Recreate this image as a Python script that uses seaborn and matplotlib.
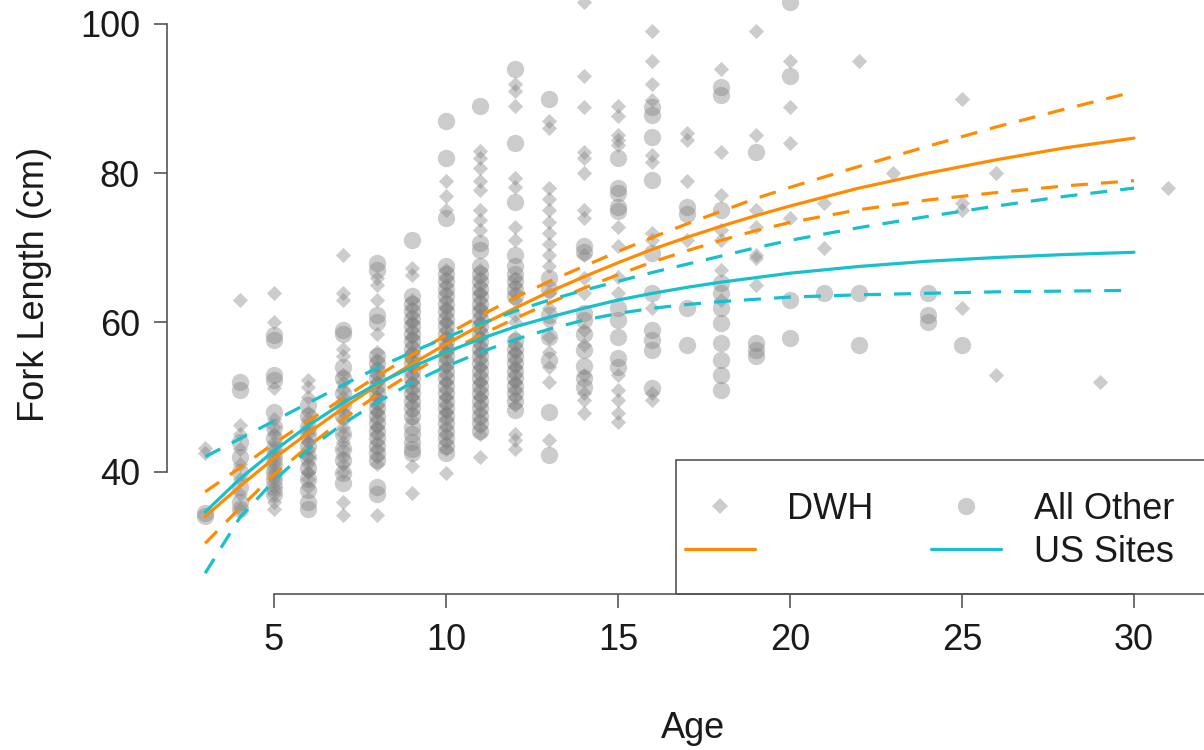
import matplotlib
matplotlib.use("Agg")
import matplotlib.pyplot as plt
import pandas as pd
import seaborn as sns
from matplotlib.lines import Line2D
from matplotlib.patches import Rectangle

# Growth-curve fits (fork length, cm) by age with confidence bands
ages_fit = [3, 4, 5, 6, 7, 8, 9, 10, 11, 12, 13, 14, 15, 16, 17, 18, 19, 20, 22, 24, 26, 28, 30]
dwh_fit = [34.0, 38.0, 41.8, 45.2, 48.5, 51.6, 54.4, 57.1, 59.6, 61.9, 64.1, 66.1, 68.0, 69.8,
           71.4, 72.9, 74.3, 75.6, 78.0, 80.0, 81.8, 83.4, 84.7]
dwh_upper = [37.3, 40.5, 43.8, 46.8, 49.8, 52.8, 55.6, 58.3, 60.9, 63.3, 65.5, 67.5, 69.5, 71.4,
             73.2, 74.9, 76.6, 78.1, 80.9, 83.6, 86.2, 88.6, 90.9]
dwh_lower = [30.4, 35.1, 39.6, 43.4, 47.0, 50.3, 53.2, 55.9, 58.3, 60.5, 62.6, 64.6, 66.4, 68.1,
             69.6, 71.0, 72.3, 73.4, 75.1, 76.4, 77.4, 78.3, 79.0]
us_fit = [34.6, 39.0, 42.8, 46.2, 49.2, 51.8, 54.0, 56.0, 57.8, 59.4, 60.7, 61.9, 63.0, 63.9,
          64.7, 65.4, 66.0, 66.6, 67.5, 68.2, 68.7, 69.1, 69.4]
us_upper = [42.0, 44.4, 46.8, 49.2, 51.6, 53.9, 56.0, 58.0, 59.8, 61.5, 63.0, 64.3, 65.5, 66.7,
            67.8, 68.9, 70.0, 71.0, 72.7, 74.2, 75.6, 76.9, 78.0]
us_lower = [26.4, 33.8, 38.8, 43.0, 46.4, 49.3, 51.9, 54.1, 56.0, 57.7, 59.1, 60.3, 61.2, 61.9,
            62.4, 62.8, 63.1, 63.4, 63.7, 63.9, 64.1, 64.2, 64.3]

# Observed fork lengths by age: DWH fish
dwh_fl = {
    3: [42.5, 43.2],
    4: [63, 46.3, 45.1, 43, 41, 39, 37, 35],
    5: [64, 60, 51.2, 47, 46, 45, 44, 43, 42, 41, 40, 39, 38, 37, 36, 35],
    6: [52.3, 51.4, 50, 48, 47, 46, 45, 44, 43, 42, 41, 40, 39, 38, 44, 42, 40],
    7: [69, 64, 63, 56.5, 55.5, 53, 52, 51, 50, 49, 48, 47, 46, 45, 44, 43, 42, 41, 40, 36, 34.2],
    8: [66, 65, 63, 58.5, 56, 55, 54, 53, 52, 51, 50, 49, 48, 47, 46, 45, 44, 43, 42, 41, 34.2,
        52, 50, 48, 46],
    9: [67.3, 66.4, 63, 62, 61, 60, 59, 58, 57, 56, 55, 54, 53, 52, 51, 50, 49, 48, 47,
        40.7, 37.1, 60, 58, 56, 54, 52, 50],
    10: [79, 77, 75, 67, 66, 65, 64, 63, 62, 61, 60, 59, 58, 57, 56, 55, 54, 53, 52, 51, 50,
         49, 48, 47, 46, 45, 44, 43, 39.8, 62, 60, 58, 56, 54, 52, 50, 48],
    11: [83, 82, 80.7, 79, 77.8, 75, 73.7, 72.4, 67, 66, 65, 64, 63, 62, 61, 60, 59, 58, 57,
         56, 55, 54, 53, 52, 51, 50, 49, 48, 47, 46, 45, 42, 64, 62, 60, 58, 56, 54, 52, 50],
    12: [92, 91, 89, 79.3, 78.2, 72.8, 71.1, 66, 65, 64, 63, 61, 60, 58, 57, 56, 55, 54, 53,
         52, 51, 50, 49, 45.1, 44.2, 43, 56, 54, 52],
    13: [87, 86, 78, 76.5, 75, 73.5, 72, 70.5, 69, 67.5, 64, 62, 60, 58, 56, 54, 52, 44.2],
    14: [103, 93, 88.9, 82.9, 82, 80, 75.1, 74, 69, 66, 64, 59, 57, 53, 50.5, 49.6, 47.8],
    15: [89, 87.6, 85.1, 84.5, 83.8, 72.8, 70.2, 66.1, 64, 53, 51, 49.6, 47.8, 46.7],
    16: [99, 95, 92, 89.8, 82.4, 81.5, 72, 71, 62, 50.5, 49.6],
    17: [85.4, 84.5, 78.9, 71.1],
    18: [94, 82.9, 77.1, 72.4, 71.1, 67, 63],
    19: [99, 85.1, 75.1, 72.8, 69, 68.6, 65],
    20: [95, 88.9, 84, 74],
    21: [76, 70],
    22: [95],
    23: [80],
    25: [90, 76, 75, 62],
    26: [80, 53],
    29: [52],
    31: [78],
}

# Observed fork lengths by age: all other US sites
other_fl = {
    3: [34.0, 34.5],
    4: [52, 51, 44, 42, 40, 38, 36, 35],
    5: [58.3, 57.6, 53, 52.3, 48, 46, 44.5, 43, 42, 41, 40, 39, 38, 37],
    6: [49, 47.5, 46, 45, 43.5, 42, 40.5, 39, 37.5, 36, 35],
    7: [59, 58.5, 54, 52.5, 50.5, 49, 47.5, 45, 43, 41.5, 39.8, 38.5],
    8: [68, 67, 61, 60, 55.5, 54.5, 53.5, 52.5, 51.5, 50.5, 49.5, 48.5, 47.5, 46.5, 45.5,
        44.5, 43.5, 42.5, 41.5, 38, 37],
    9: [71, 63.5, 62.5, 61.5, 60.5, 59.5, 58.5, 57.5, 56.5, 55.5, 54.5, 53.5, 52.5, 51.5,
        50.5, 49.5, 48.5, 47.5, 46, 45, 44, 43, 42.5],
    10: [87, 82, 74, 67.5, 66.5, 65.5, 64.5, 63.5, 62.5, 61.5, 60.5, 59.5, 58.5, 57.5, 56.5,
         55.5, 54.5, 53.5, 52.5, 51.5, 50.5, 49.5, 48.5, 47.5, 46.5, 45.5, 44.5, 43.5, 42.5],
    11: [89, 70.6, 69.7, 67.5, 66.5, 65.5, 64.5, 63.5, 62.5, 61.5, 60.5, 59.5, 58.5, 57.5,
         56.5, 55.5, 54.5, 53.5, 52.5, 51.5, 50.5, 49.5, 48.5, 47.5, 46.5, 45.5],
    12: [94, 84, 76.2, 69, 67.5, 66.5, 65.5, 64.5, 63.5, 57.5, 56.5, 55.5, 54.5, 53.5, 52.5,
         51.5, 50.5, 49.5, 48.3],
    13: [90, 66, 64.5, 61, 58, 55, 48, 42.2],
    14: [70.2, 69.5, 61.2, 60.3, 58.5, 56.3, 54.1, 52.5, 51.4],
    15: [82, 78, 77.3, 75.5, 74.9, 62, 60.3, 58.1, 55.2, 54],
    16: [88.9, 87.8, 84.9, 79.1, 69.3, 63.9, 59, 57.7, 56.3, 51.2],
    17: [75.5, 74.5, 61.9, 57.0],
    18: [91.5, 90.5, 75.1, 65.3, 63.9, 62, 59.9, 57.2, 55, 53, 51],
    19: [82.9, 57.2, 56.3, 55.5],
    20: [103, 93, 63, 57.9],
    21: [64],
    22: [64, 57],
    24: [64, 61, 60],
    25: [57],
}

x_ticks = [5, 10, 15, 20, 25, 30]
y_ticks = [40, 60, 80, 100]

ORANGE = "#FF8C00"
CYAN = "#14C1CC"
POINT_GRAY = "#808080"
AXIS_GRAY = "#555555"
TEXT = "#1a1a1a"
FS = 26


def to_frame(groups):
    rows = [(age, fl) for age, vals in groups.items() for fl in vals]
    return pd.DataFrame(rows, columns=["age", "fl"])


dwh_df = to_frame(dwh_fl)
other_df = to_frame(other_fl)

sns.set_theme(style="ticks")
plt.rcParams["font.family"] = ["Liberation Sans", "DejaVu Sans"]
plt.rcParams["text.color"] = TEXT
plt.rcParams["axes.labelcolor"] = TEXT
plt.rcParams["xtick.color"] = AXIS_GRAY
plt.rcParams["ytick.color"] = AXIS_GRAY
plt.rcParams["xtick.labelcolor"] = TEXT
plt.rcParams["ytick.labelcolor"] = TEXT

fig = plt.figure(figsize=(12.04, 7.5), dpi=100)
W, H = 1204, 750
# plot region in pixels: left 167, right 1219, top -26, bottom 594
ax = fig.add_axes([167 / W, (H - 594) / H, (1219 - 167) / W, (594 + 26) / H])
ax.set_facecolor("white")

diamond_s = 60
circle_s = 156
sns.scatterplot(data=dwh_df, x="age", y="fl", marker="D", s=diamond_s, color=POINT_GRAY,
                alpha=0.4, linewidth=0, ax=ax, legend=False)
sns.scatterplot(data=other_df, x="age", y="fl", marker="o", s=circle_s, color=POINT_GRAY,
                alpha=0.4, linewidth=0, ax=ax, legend=False)

lw = 2.3
dash = (0, (5.3, 4.1))
for vals, col, ls in [
    (dwh_upper, ORANGE, dash), (dwh_lower, ORANGE, dash), (dwh_fit, ORANGE, "-"),
    (us_upper, CYAN, dash), (us_lower, CYAN, dash), (us_fit, CYAN, "-"),
]:
    sns.lineplot(x=ages_fit, y=vals, color=col, linewidth=lw, linestyle=ls,
                 errorbar=None, ax=ax)

ax.set_xlim(1.89, 32.47)
ax.set_ylim(23.61, 106.69)
ax.set_xticks(x_ticks)
ax.set_yticks(y_ticks)
ax.set_xticklabels([str(v) for v in x_ticks])
ax.set_yticklabels([str(v) for v in y_ticks])

for side in ["top", "right"]:
    ax.spines[side].set_visible(False)
ax.spines["left"].set_bounds(40, 100)
ax.spines["bottom"].set_bounds(5, 30)
for side in ["left", "bottom"]:
    ax.spines[side].set_color(AXIS_GRAY)
    ax.spines[side].set_linewidth(1.2)

ax.tick_params(axis="both", direction="out", width=1.2, labelsize=FS)
ax.tick_params(axis="y", length=9.5, pad=10)
ax.tick_params(axis="x", length=10, pad=11)
ax.grid(False)

ax.set_xlabel("Age", fontsize=FS, labelpad=38)
ax.set_ylabel("Fork Length (cm)", fontsize=FS, labelpad=20)

# legend box anchored to the lower-right corner of the plot region
x0 = (676 - 167) / 1052
y1 = (594 - 460) / 620
ax.add_patch(Rectangle((x0, 0), 1 - x0, y1, transform=ax.transAxes, fill=False,
                       edgecolor=AXIS_GRAY, linewidth=1.2, clip_on=False, zorder=5))

handles = [
    Line2D([], [], marker="D", linestyle="none", color=POINT_GRAY, alpha=0.4,
           markersize=diamond_s ** 0.5, markeredgewidth=0),
    Line2D([], [], color=ORANGE, linewidth=lw),
    Line2D([], [], marker="o", linestyle="none", color=POINT_GRAY, alpha=0.4,
           markersize=circle_s ** 0.5, markeredgewidth=0),
    Line2D([], [], color=CYAN, linewidth=lw),
]
labels = ["DWH", "", "All Other", "US Sites"]
ax.legend(handles, labels, ncol=2, frameon=False, fontsize=FS, handlelength=1.94,
          handletextpad=0.89, columnspacing=1.6, borderpad=0, borderaxespad=0,
          labelspacing=0.22, loc="center left",
          bbox_to_anchor=((685 - 167) / 1052, (594 - 531) / 620),
          bbox_transform=ax.transAxes)

fig.savefig("out.png", dpi=100, facecolor="white")
